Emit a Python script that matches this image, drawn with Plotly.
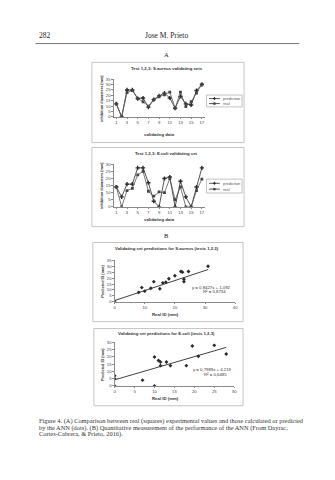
import plotly.graph_objects as go

W, H = 335, 480

# ---------------- data ----------------
val_idx = list(range(1, 18))
sa_pred = [12, 0, 25, 25, 17, 17.5, 9, 16, 19.5, 22, 17.5, 8, 19, 12, 11, 24.5, 30]
sa_real = [12, 0, 22.5, 24.5, 17, 14, 10, 16, 18.5, 20.5, 23, 8, 23, 9.5, 14, 22, 30.5]
ec_pred = [14, 7, 16, 16, 27.5, 27.5, 17, 4, 0, 20, 21, 0, 18, 7, 0, 14, 27.5]
ec_real = [14, 0, 11.5, 13, 22.5, 25, 11, 7.5, 10.5, 10, 20, 5, 14, 0, 0, 11.5, 19.5]

sa_scatter_real = [0, 8, 9, 10, 12, 13, 15, 16, 17, 18, 20, 22, 22.5, 23, 23, 24.5, 31]
sa_scatter_pred = [0.5, 8, 12, 9, 11.5, 17, 11, 16, 16.5, 19.5, 22, 25.5, 25, 19, 17, 25.5, 30]
sa_fit = ("0,8427", "1,092", "0,8734")   # slope, intercept, R2 as printed
sa_fit_x = [0, 31]

ec_scatter_real = [0, 0, 0, 7, 10, 10, 11, 11.5, 11.5, 13, 14, 18, 19.5, 21, 25, 28]
ec_scatter_pred = [7, 5, 0, 4, 20, 0, 17.5, 16.5, 14, 16.5, 14, 14, 27.5, 20.5, 28, 22]
ec_fit = ("0,7989", "4,219", "0,6485")
ec_fit_x = [0, 28]

line_ticks = [1, 3, 5, 7, 9, 11, 13, 15, 17]


def num(s):
    return float(s.replace(",", "."))


def px(x):
    return x / W


def py(y):
    return 1 - y / H


fig = go.Figure()

INK = "#2a2a2a"
AX = "#8a8a8a"
BOX = "#c4c4c4"
SANS = "Liberation Sans, Arial, sans-serif"
SERIF = "Liberation Serif, Times New Roman, serif"

# ---- line charts ----
for (xa, ya, pred, real) in [("x", "y", sa_pred, sa_real), ("x2", "y2", ec_pred, ec_real)]:
    fig.add_trace(go.Scatter(x=val_idx, y=pred, mode="lines+markers", xaxis=xa, yaxis=ya,
                             line=dict(color=INK, width=0.8),
                             marker=dict(symbol="cross", size=3.5, color=INK), showlegend=False))
    fig.add_trace(go.Scatter(x=val_idx, y=real, mode="lines+markers", xaxis=xa, yaxis=ya,
                             line=dict(color="#555555", width=0.8),
                             marker=dict(symbol="square", size=2.8, color="#444444"), showlegend=False))

# ---- scatter charts ----
for (xa, ya, xs, ys, fit, fx) in [("x3", "y3", sa_scatter_real, sa_scatter_pred, sa_fit, sa_fit_x),
                                  ("x4", "y4", ec_scatter_real, ec_scatter_pred, ec_fit, ec_fit_x)]:
    fig.add_trace(go.Scatter(x=xs, y=ys, mode="markers", xaxis=xa, yaxis=ya,
                             marker=dict(symbol="diamond", size=3, color=INK), showlegend=False))
    fig.add_trace(go.Scatter(x=fx, y=[num(fit[0]) * v + num(fit[1]) for v in fx], mode="lines",
                             xaxis=xa, yaxis=ya, line=dict(color=INK, width=0.9), showlegend=False))

axis_common = dict(showgrid=False, zeroline=False, showline=True, linecolor=AX, linewidth=0.6,
                   ticks="outside", ticklen=1.5, tickcolor=AX, tickwidth=0.6,
                   tickfont=dict(size=4.2, family=SANS, color="#444"))

fig.update_layout(
    width=W, height=H, margin=dict(l=0, r=0, t=0, b=0),
    paper_bgcolor="white", plot_bgcolor="white", showlegend=False,
    xaxis=dict(domain=[px(114), px(206)], anchor="y", range=[0.5, 17.5],
               tickvals=line_ticks, **axis_common),
    yaxis=dict(domain=[py(115), py(77)], anchor="x", range=[0, 35], dtick=5, **axis_common),
    xaxis2=dict(domain=[px(114), px(206)], anchor="y2", range=[0.5, 17.5],
                tickvals=line_ticks, **axis_common),
    yaxis2=dict(domain=[py(206), py(163)], anchor="x2", range=[0, 30], dtick=5, **axis_common),
    xaxis3=dict(domain=[px(115), px(237)], anchor="y3", range=[0, 40], dtick=10, **axis_common),
    yaxis3=dict(domain=[py(302), py(260)], anchor="x3", range=[0, 35], dtick=5, **axis_common),
    xaxis4=dict(domain=[px(115), px(236)], anchor="y4", range=[0, 30], dtick=5, **axis_common),
    yaxis4=dict(domain=[py(387), py(343)], anchor="x4", range=[0, 30], dtick=5, **axis_common),
)

shapes = []
ann = []


def text(x, y, s, size=4.2, bold=False, family=SANS, xanchor="center", angle=0, color="#333"):
    ann.append(dict(x=px(x), y=py(y), xref="paper", yref="paper", text=("<b>%s</b>" % s) if bold else s,
                    showarrow=False, xanchor=xanchor, yanchor="middle", textangle=angle,
                    font=dict(size=size, family=family, color=color)))


# page header
text(36, 33, "282", size=7.5, family=SERIF, xanchor="left", color="#222")
text(168, 33, "Jose M. Prieto", size=7.5, family=SERIF, color="#222")
shapes.append(dict(type="line", xref="paper", yref="paper", x0=px(35), x1=px(302), y0=py(41), y1=py(41),
                   line=dict(color="#555", width=0.8)))
text(168, 52, "A", size=6.5, family=SERIF, color="#222")
text(168, 235, "B", size=6.5, family=SERIF, color="#222")

# chart boxes
for (x0, y0, x1, y1) in [(92, 60, 246, 141), (92, 146, 246, 226), (93, 242, 245, 322), (94, 329, 245, 407)]:
    shapes.append(dict(type="rect", xref="paper", yref="paper", x0=px(x0), x1=px(x1), y0=py(y0), y1=py(y1),
                       line=dict(color=BOX, width=1)))

# titles
text(168, 66, "Test 1,2,3: S.aureus validating sets", size=4.3, bold=True)
text(168, 152, "Test 1,2,3: E.coli validating set", size=4.3, bold=True)
text(168, 248, "Validating set predictions for S.aureus (tests 1,2,3)", size=4.3, bold=True)
text(168, 334, "Validating set predictions for E.coli (tests 1,2,3)", size=4.3, bold=True)

# axis titles
text(160, 133, "validating data", size=4.3, bold=True)
text(160, 219, "validating data", size=4.3, bold=True)
text(166, 315, "Real ID (mm)", size=4.3, bold=True)
text(166, 400, "Real ID (mm)", size=4.3, bold=True)
text(102, 96, "inhibition diameters (mm)", size=3.8, bold=True, angle=-90)
text(102, 184, "inhibition diameters (mm)", size=3.8, bold=True, angle=-90)
text(103, 281, "Predicted ID (mm)", size=3.8, bold=True, angle=-90)
text(103, 365, "Predicted ID (mm)", size=3.8, bold=True, angle=-90)

# equations
text(213, 287, "y = %sx + %s" % (sa_fit[0], sa_fit[1]), size=4.3)
text(216, 292, "R² = %s" % sa_fit[2], size=4.3)
text(214, 370, "y = %sx + %s" % (ec_fit[0], ec_fit[1]), size=4.3)
text(217, 375, "R² = %s" % ec_fit[2], size=4.3)

# manual legends
for (ly0, ly1) in [(93, 105), (178, 192)]:
    shapes.append(dict(type="rect", xref="paper", yref="paper", x0=px(208), x1=px(244), y0=py(ly0), y1=py(ly1),
                       line=dict(color="#999", width=0.6)))
    for k, (lab, sym) in enumerate([("prediction", "cross"), ("real", "square")]):
        yy = ly0 + (ly1 - ly0) * (0.3 + 0.42 * k)
        shapes.append(dict(type="line", xref="paper", yref="paper", x0=px(210.5), x1=px(221.5),
                           y0=py(yy), y1=py(yy), line=dict(color=INK, width=0.8)))
        if sym == "square":
            shapes.append(dict(type="rect", xref="paper", yref="paper", x0=px(214.8), x1=px(217.2),
                               y0=py(yy - 1.2), y1=py(yy + 1.2), fillcolor="#444", line=dict(width=0)))
        else:
            shapes.append(dict(type="rect", xref="paper", yref="paper", x0=px(214.5), x1=px(217.5),
                               y0=py(yy - 0.5), y1=py(yy + 0.5), fillcolor=INK, line=dict(width=0)))
            shapes.append(dict(type="rect", xref="paper", yref="paper", x0=px(215.5), x1=px(216.5),
                               y0=py(yy - 1.5), y1=py(yy + 1.5), fillcolor=INK, line=dict(width=0)))
        text(223, yy, lab, size=4, xanchor="left", color="#555")

# caption
cap = [
    "Figure 4. (A) Comparison between real (squares) experimental values and those calculated or predicted",
    "by the ANN (dots). (B) Quantitative measurement of the performance of the ANN (From Dayrac,",
    "Cortes-Cabrera, & Prieto, 2016).",
]
for i, line in enumerate(cap):
    text(36, 422 + 7 * i, line, size=6.4, family=SERIF, xanchor="left", color="#333")

fig.update_layout(shapes=shapes, annotations=ann)
fig.write_html("out.html")
